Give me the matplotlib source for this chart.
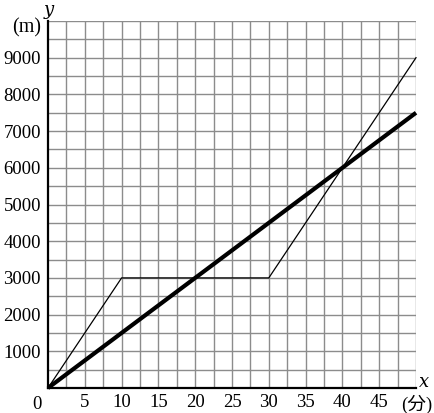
import numpy as np
import matplotlib.pyplot as plt

# data
thick_x = [0, 50]
thick_y = [0, 7500]
thin_x = [0, 10, 30, 50]
thin_y = [0, 3000, 3000, 9000]
x_ticks = [5, 10, 15, 20, 25, 30, 35, 40, 45]
y_ticks = [1000, 2000, 3000, 4000, 5000, 6000, 7000, 8000, 9000]

fam = ['Liberation Serif', 'Noto Sans CJK JP']
plt.rcParams['font.family'] = fam

fig = plt.figure(figsize=(4.34, 4.13), dpi=100)
ax = fig.add_axes([48/434, 1 - 388/413, (416 - 48)/434, (388 - 21)/413])

ax.set_xlim(0, 50)
ax.set_ylim(0, 10000)

# grid
for gx in np.arange(2.5, 50.1, 2.5):
    ax.axvline(gx, color='#8c8c8c', lw=1.0, zorder=1)
for gy in np.arange(500, 10001, 500):
    ax.axhline(gy, color='#8c8c8c', lw=1.0, zorder=1)

ax.plot(thin_x, thin_y, color='black', lw=0.9, zorder=3, clip_on=False)
ax.plot(thick_x, thick_y, color='black', lw=3.0, zorder=4,
        solid_capstyle='butt', clip_on=False)

for s in ['top', 'right']:
    ax.spines[s].set_visible(False)
ax.spines['left'].set_linewidth(1.6)
ax.spines['bottom'].set_linewidth(1.6)
ax.spines['left'].set_zorder(5)
ax.spines['bottom'].set_zorder(5)

ax.set_xticks(x_ticks)
ax.set_yticks(y_ticks)
ax.tick_params(length=0, labelsize=13.5, pad=5)
ax.tick_params(axis='x', pad=4.5)

ax.text(-1.45, -440, '0', ha='center', va='center', fontsize=13.5)
ax.text(-1.0, 9810, '(m)', ha='right', va='center', fontsize=14.5)
ax.text(52.2, -440, '(分)', ha='right', va='center', fontsize=13.5)
ax.text(51.1, 150, 'x', ha='center', va='center', fontsize=13,
        style='italic', family='DejaVu Serif')
ax.text(0.1, 10300, 'y', ha='center', va='center', fontsize=13,
        style='italic', family='DejaVu Serif')

fig.savefig('out.png', dpi=100)
